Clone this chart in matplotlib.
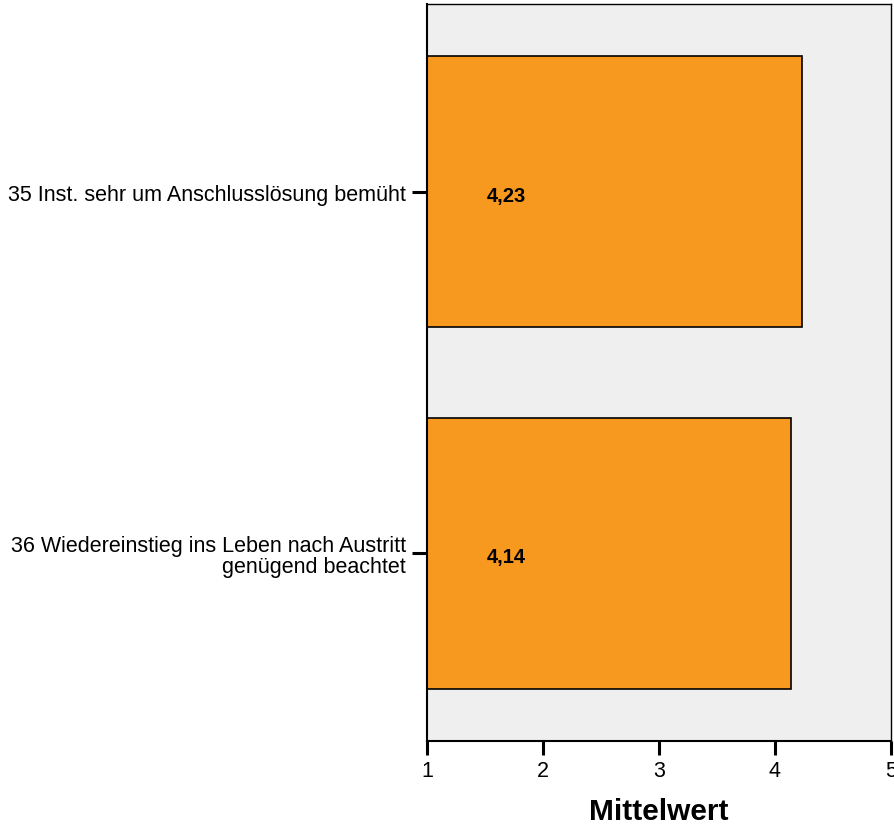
import matplotlib
matplotlib.use("Agg")
import matplotlib.pyplot as plt

plt.rcParams['font.family'] = ['Liberation Sans', 'DejaVu Sans']

categories = ["35 Inst. sehr um Anschlusslösung bemüht",
              "36 Wiedereinstieg ins Leben nach Austritt\ngenügend beachtet"]
values = [4.23, 4.14]
value_labels = ["4,23", "4,14"]
xticks = [1, 2, 3, 4, 5]

fig = plt.figure(figsize=(8.95, 8.29), dpi=100)
ax = fig.add_axes([427/895, 1-742/829, (891-427)/895, (742-5)/829])
ax.set_facecolor("#EFEFEF")

pos = list(range(len(categories)))
ax.barh(pos, [v - 1 for v in values], left=1, height=0.75,
        color="#F7981F", edgecolor="black", linewidth=1.2, zorder=2)
for p, lab in zip(pos, value_labels):
    ax.text(1.685, p + 0.01, lab, ha="center", va="center", fontsize=14.5,
            fontweight="bold", color="black", zorder=3)

ax.set_xlim(1, 5)
ax.set_ylim(1.52, -0.52)
ax.set_xticks(xticks)
ax.set_xticklabels([str(t) for t in xticks], fontsize=15.5)
ax.set_yticks(pos)
ax.set_yticklabels(categories, fontsize=15.5, ha="right", multialignment="right",
                   linespacing=1.0)
ax.tick_params(axis="y", length=11, width=2.2, color="black", pad=4)
ax.tick_params(axis="x", length=10, width=2.2, color="black", pad=4)
for s in ax.spines.values():
    s.set_linewidth(1.5)
    s.set_color("black")
ax.spines['right'].set_linewidth(1.0)
ax.spines['top'].set_linewidth(1.0)
ax.set_xlabel("Mittelwert", fontsize=21.5, fontweight="bold", labelpad=11)

fig.savefig("out.png", dpi=100)
